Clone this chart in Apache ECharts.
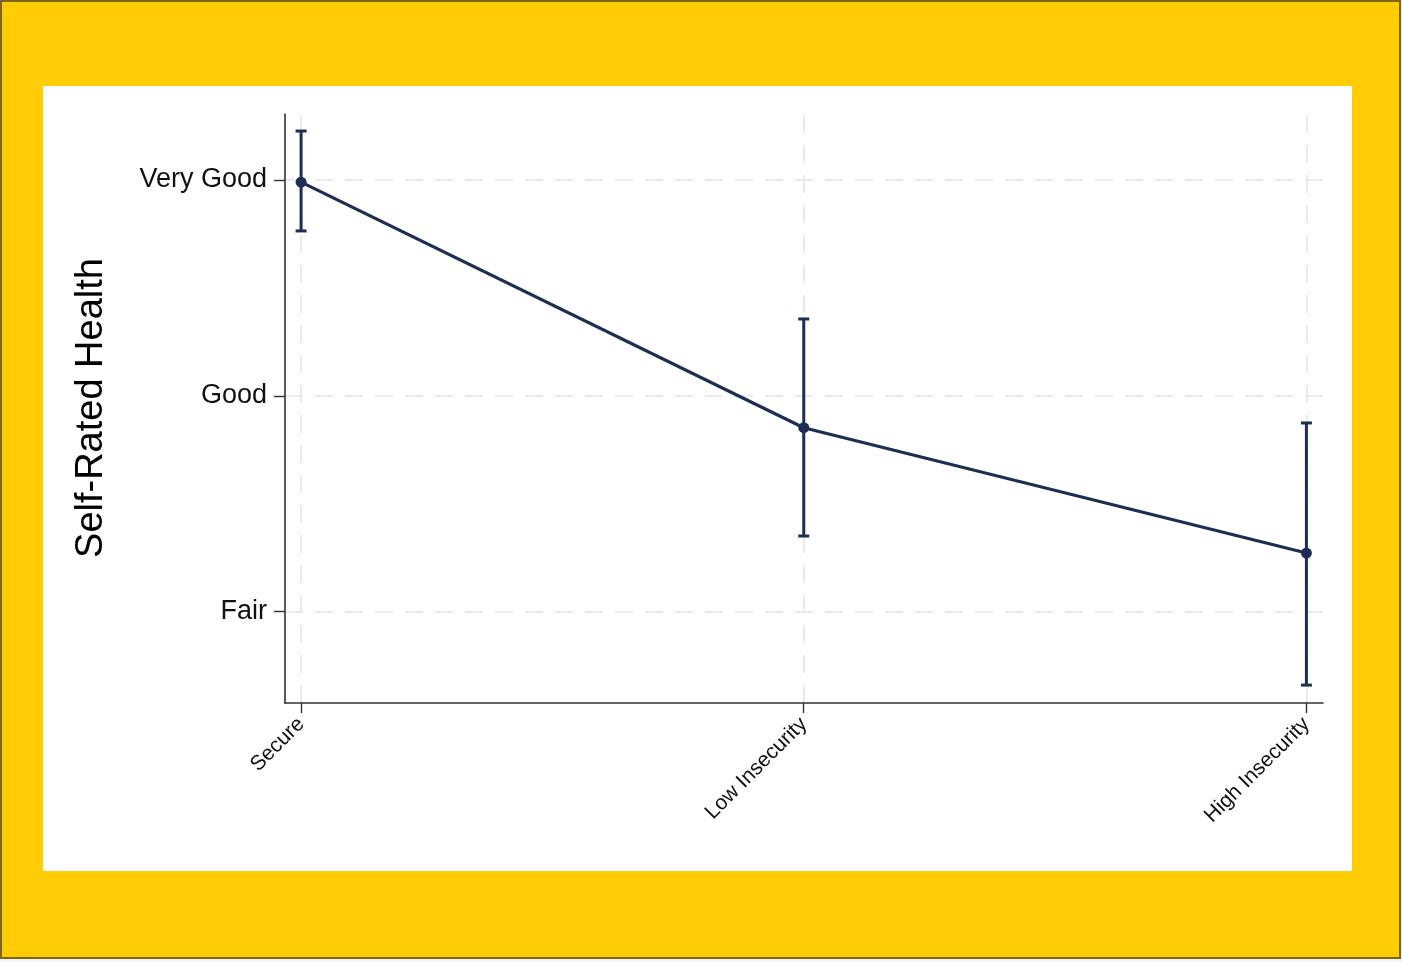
<!DOCTYPE html>
<html>
<head>
<meta charset="utf-8">
<script src="https://cdn.jsdelivr.net/npm/echarts@6/dist/echarts.min.js"></script>
<style>
html,body{margin:0;padding:0;background:#f4f4f4;}
#chart{width:1402px;height:962px;}
</style>
</head>
<body>
<div id="chart"></div>
<script>
// ---- data ----
const categories = ['Secure', 'Low Insecurity', 'High Insecurity'];
const xPositions = [1, 2, 3];
const means = [4.99, 3.852, 3.271];
const ciLow = [4.764, 3.35, 2.659];
const ciHigh = [5.227, 4.356, 3.874];
const yTickValues = [3, 4, 5];
const yTickLabels = ['Fair', 'Good', 'Very Good'];
const yTitle = 'Self-Rated Health';

const navy = '#1e2d56';
const gridColor = '#eaeaea';
const font = '"Liberation Sans", Arial, Helvetica, sans-serif';

const lineData = xPositions.map((x, i) => [x, means[i]]);
const errData = xPositions.map((x, i) => [x, ciLow[i], ciHigh[i]]);

const chart = echarts.init(document.getElementById('chart'), null, {renderer: 'canvas'});
chart.setOption({
  animation: false,
  backgroundColor: 'transparent',
  graphic: [
    {type: 'rect', z: -10, silent: true,
      shape: {x: 1, y: 1, width: 1399, height: 957},
      style: {fill: '#FFCC05', stroke: '#7a6518', lineWidth: 2}},
    {type: 'rect', z: -9, silent: true,
      shape: {x: 43, y: 86, width: 1309, height: 785},
      style: {fill: '#ffffff'}},
    {type: 'text', z: 10, silent: true,
      x: 92, y: 408, rotation: Math.PI / 2,
      style: {text: yTitle, font: '38px ' + font, fill: '#000',
        align: 'center', verticalAlign: 'middle'}}
  ],
  grid: {left: 285, right: 79, top: 114, bottom: 259, containLabel: false, outerBoundsMode: 'none'},
  xAxis: {
    type: 'value', min: 0.968, max: 3.033,
    axisLine: {show: true, onZero: false, lineStyle: {color: '#333', width: 1.6}},
    axisTick: {show: true, customValues: xPositions, length: 10, lineStyle: {color: '#333', width: 1.4}},
    axisLabel: {show: true, customValues: xPositions, rotate: 45, margin: 18,
      fontSize: 21, fontFamily: font, color: '#111',
      formatter: v => categories[xPositions.indexOf(Math.round(v))] || ''},
    splitLine: {show: false}
  },
  yAxis: {
    type: 'value', min: 2.576, max: 5.306,
    axisLine: {show: true, onZero: false, lineStyle: {color: '#333', width: 1.6}},
    axisTick: {show: true, customValues: yTickValues, length: 11, lineStyle: {color: '#333', width: 1.4}},
    axisLabel: {show: true, customValues: yTickValues, margin: 18,
      fontSize: 27, fontFamily: font, color: '#111', padding: [9, 0, 0, 0],
      formatter: v => yTickLabels[yTickValues.indexOf(Math.round(v))] || ''},
    splitLine: {show: false}
  },
  series: [
    {
      type: 'line', z: 1, data: [], silent: true,
      markLine: {
        z: 0, silent: true, symbol: ['none', 'none'], label: {show: false},
        lineStyle: {color: gridColor, type: [18, 12], width: 2},
        emphasis: {disabled: true},
        data: xPositions.map(x => ({xAxis: x})).concat(yTickValues.map(y => ({yAxis: y})))
      }
    },
    {
      type: 'custom', z: 6, silent: true,
      data: errData,
      renderItem: function (params, api) {
        const x = api.value(0);
        const lo = api.coord([x, api.value(1)]);
        const hi = api.coord([x, api.value(2)]);
        const hw = 5.5;
        const st = {stroke: navy, lineWidth: 3};
        return {type: 'group', children: [
          {type: 'line', shape: {x1: lo[0], y1: lo[1], x2: hi[0], y2: hi[1]}, style: st},
          {type: 'line', shape: {x1: lo[0] - hw, y1: lo[1], x2: lo[0] + hw, y2: lo[1]}, style: st},
          {type: 'line', shape: {x1: hi[0] - hw, y1: hi[1], x2: hi[0] + hw, y2: hi[1]}, style: st}
        ]};
      }
    },
    {
      type: 'line', z: 7, silent: true,
      data: lineData,
      symbol: 'circle', symbolSize: 11,
      lineStyle: {color: navy, width: 3.2},
      itemStyle: {color: navy, borderWidth: 0},
      emphasis: {disabled: true}
    }
  ]
});
</script>
</body>
</html>
